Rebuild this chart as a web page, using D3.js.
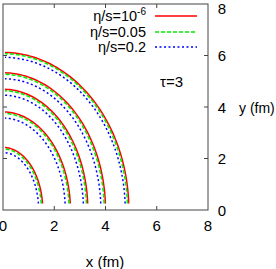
<!DOCTYPE html>
<html>
<head>
<meta charset="utf-8">
<script src="https://cdn.jsdelivr.net/npm/d3@7"></script>
<style>
  body { margin: 0; background: #fff; }
  text { font-family: "Liberation Sans", Arial, sans-serif; fill: #000; }
</style>
</head>
<body>
<svg id="chart"></svg>
<script>
// Data: semi-axes (fm) of each contour
const labels = ['η/s=10', 'η/s=0.05', 'η/s=0.2'];
const colors = ['#ff0000', '#00ee00', '#0000ff'];
const dashes = [null, '4,2', '2,2.5'];
const redRx = [4.91, 4.00, 3.31, 2.63, 1.55];
const redRy = [6.12, 5.33, 4.69, 3.81, 2.43];
const greenRx = [4.86, 3.95, 3.26, 2.58, 1.50];
const greenRy = [6.07, 5.27, 4.63, 3.75, 2.37];
const blueRx = [4.77, 3.82, 3.14, 2.43, 1.39];
const blueRy = [5.93, 5.10, 4.46, 3.57, 2.23];
const ticks = [0, 2, 4, 6, 8];

const width = 276, height = 269;
const svg = d3.select('#chart').attr('width', width).attr('height', height);

const x = d3.scaleLinear().domain([0, 8]).range([3, 208]);
const y = d3.scaleLinear().domain([0, 8]).range([210, 4]);

// curves: quarter ellipse from near y-axis down to near x-axis
const series = [[redRx, redRy], [greenRx, greenRy], [blueRx, blueRy]];
const line = d3.line().x(d => x(d[0])).y(d => y(d[1]));
const g = svg.append('g');
series.forEach((s, i) => {
  s[0].forEach((rx, k) => {
    const ry = s[1][k];
    const t0 = Math.asin(0.25 / ry), t1 = Math.acos(0.08 / rx);
    const pts = d3.range(0, 61).map(j => {
      const t = t0 + (t1 - t0) * j / 60;
      return [rx * Math.cos(t), ry * Math.sin(t)];
    });
    g.append('path')
      .attr('d', line(pts))
      .attr('fill', 'none')
      .attr('stroke', colors[i])
      .attr('stroke-width', 1.5)
      .attr('stroke-dasharray', dashes[i]);
  });
});

// frame
svg.append('rect')
  .attr('x', x(0)).attr('y', y(8))
  .attr('width', x(8) - x(0)).attr('height', y(0) - y(8))
  .attr('fill', 'none').attr('stroke', '#444').attr('stroke-width', 1);

// inward ticks
const tk = 4;
ticks.slice(1, -1).forEach(v => {
  svg.append('line').attr('x1', x(v)).attr('x2', x(v)).attr('y1', y(0)).attr('y2', y(0) - tk).attr('stroke', '#444');
  svg.append('line').attr('x1', x(v)).attr('x2', x(v)).attr('y1', y(8)).attr('y2', y(8) + tk).attr('stroke', '#444');
  svg.append('line').attr('x1', x(0)).attr('x2', x(0) + tk).attr('y1', y(v)).attr('y2', y(v)).attr('stroke', '#444');
  svg.append('line').attr('x1', x(8)).attr('x2', x(8) - tk).attr('y1', y(v)).attr('y2', y(v)).attr('stroke', '#444');
});

// tick labels
svg.selectAll('.xt').data(ticks).enter().append('text')
  .attr('x', d => x(d)).attr('y', 231)
  .attr('text-anchor', 'middle').style('font-size', '15px').text(d => d);
svg.selectAll('.yt').data(ticks).enter().append('text')
  .attr('x', 222).attr('y', d => Math.max(y(d) + 5.5, 14))
  .attr('text-anchor', 'middle').style('font-size', '15px').text(d => d);

// axis titles
svg.append('text').attr('x', 105).attr('y', 267).attr('text-anchor', 'middle')
  .style('font-size', '15px').text('x (fm)');
svg.append('text').attr('x', 239).attr('y', 113)
  .style('font-size', '14px').text('y (fm)');

// legend
const ly = [16, 32, 47];
labels.forEach((l, i) => {
  const t = svg.append('text').attr('x', 146).attr('y', ly[i] + 5)
    .attr('text-anchor', 'end').style('font-size', '14.5px').text(l);
  if (i === 0) t.append('tspan').attr('dy', -6).style('font-size', '10px').text('-6');
  svg.append('line').attr('x1', 155).attr('x2', 197).attr('y1', ly[i]).attr('y2', ly[i])
    .attr('stroke', colors[i]).attr('stroke-width', 1.5).attr('stroke-dasharray', dashes[i]);
});

svg.append('text').attr('x', 160).attr('y', 87).style('font-size', '15px').text('τ=3');
</script>
</body>
</html>
